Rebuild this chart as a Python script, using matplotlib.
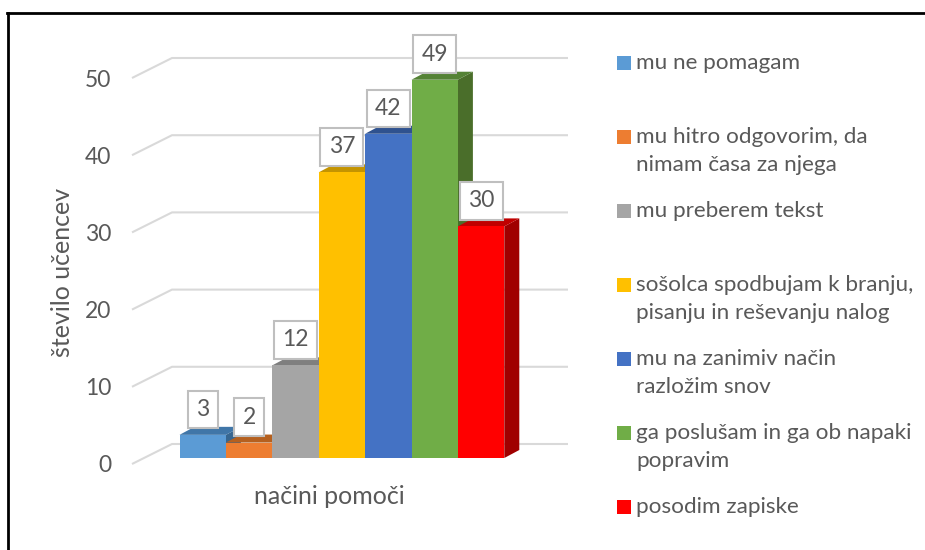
import matplotlib
matplotlib.use('Agg')
import matplotlib.pyplot as plt
from matplotlib.patches import Polygon, Rectangle

# data
categories = ['mu ne pomagam',
              'mu hitro odgovorim, da\nnimam časa za njega',
              'mu preberem tekst',
              'sošolca spodbujam k branju,\npisanju in reševanju nalog',
              'mu na zanimiv način\nrazložim snov',
              'ga poslušam in ga ob napaki\npopravim',
              'posodim zapiske']
values = [3, 2, 12, 37, 42, 49, 30]
y_ticks = [0, 10, 20, 30, 40, 50]

# front, top and side colours of each bar
front_colors = ['#5B9BD5', '#ED7D31', '#A5A5A5', '#FFC000', '#4472C4', '#70AD47', '#FF0000']
top_colors = ['#4076A8', '#B5601F', '#7F7F7F', '#C49400', '#2F528F', '#548235', '#C00000']
side_colors = ['#376690', '#A05218', '#6E6E6E', '#A87F00', '#2A4980', '#4A6E2A', '#A00000']

plt.rcParams['font.family'] = 'Lato'
text_col = '#595959'
W, H = 925, 550
fig = plt.figure(figsize=(W / 100, H / 100), dpi=100)

# axes box in pixels, y=0 is at 464 and y=50 at 78
px_left, px_right, px_bottom, px_per_val = 132, 568, 464, 7.72
px_per_bar = 46.4
y_max = 53
ax = fig.add_axes([px_left / W, (H - px_bottom) / H, (px_right - px_left) / W, y_max * px_per_val / H])
x_start = (px_left - 179.5) / px_per_bar - 0.5
ax.set_xlim(x_start, x_start + (px_right - px_left) / px_per_bar)
ax.set_ylim(0, y_max)

# depth of the wall and of the bars, in data units
wall_dx, wall_dy = 40 / px_per_bar, 20 / px_per_val
bar_dx, bar_dy = 15 / px_per_bar, 8 / px_per_val
base = 6 / px_per_val

# gridlines on the floor/side wall and back wall
for t in y_ticks:
    ax.plot([x_start, x_start + wall_dx, ax.get_xlim()[1]], [t, t + wall_dy, t + wall_dy],
            color='#D9D9D9', lw=1.5, zorder=1, clip_on=False, solid_capstyle='butt')

# bars, left to right so that the next one covers the side of the last
for i, v in enumerate(values):
    l, r = i - 0.5, i + 0.5
    top = base + v
    z = 2 + i
    ax.add_patch(Polygon([(r, base), (r + bar_dx, base + bar_dy), (r + bar_dx, top + bar_dy), (r, top)],
                         facecolor=side_colors[i], edgecolor='none', zorder=z, clip_on=False))
    ax.add_patch(Polygon([(l, top), (l + bar_dx, top + bar_dy), (r + bar_dx, top + bar_dy), (r, top)],
                         facecolor=top_colors[i], edgecolor='none', zorder=z, clip_on=False))
    ax.bar(i, v, width=1, bottom=base, color=front_colors[i], zorder=z)

# data labels
for i, v in enumerate(values):
    ax.annotate(str(v), (i, base + v), xytext=(0, 25.5), textcoords='offset pixels',
                ha='center', va='center', fontsize=16.5, color=text_col, zorder=20,
                bbox=dict(boxstyle='square,pad=0.36', fc='white', ec='#BFBFBF', lw=1.5))

for s in ax.spines.values():
    s.set_visible(False)
ax.patch.set_visible(False)
ax.set_xticks([])
ax.set_yticks(y_ticks)
ax.tick_params(axis='y', length=0, pad=15, labelsize=16.5, labelcolor=text_col)
ax.set_ylabel('število učencev', fontsize=18, color=text_col, va='center')
ax.yaxis.set_label_coords((62 - px_left) / (px_right - px_left), (px_bottom - 272) / (y_max * px_per_val), transform=ax.transAxes)
ax.set_xlabel('načini pomoči', fontsize=18, color=text_col, va='center')
ax.xaxis.set_label_coords((329 - px_left) / (px_right - px_left), -(497 - px_bottom) / (y_max * px_per_val), transform=ax.transAxes)

# legend, one entry every 74 px
for i, name in enumerate(categories):
    y = 63 + 74 * i
    fig.add_artist(Rectangle((617 / W, 1 - (y + 7) / H), 14 / W, 14 / H, transform=fig.transFigure,
                             facecolor=front_colors[i], edgecolor='none'))
    fig.text(636 / W, 1 - (y - 10) / H, name, fontsize=16.2, color=text_col, va='top', ha='left', linespacing=1.52)

# outer border, only top and left are in the picture
fig.add_artist(plt.Line2D([8 / W, 8 / W], [0, 1 - 13 / H], color='black', lw=2, transform=fig.transFigure))
fig.add_artist(plt.Line2D([7 / W, 1], [1 - 13 / H, 1 - 13 / H], color='black', lw=2, transform=fig.transFigure))

fig.savefig('out.png', dpi=100)
